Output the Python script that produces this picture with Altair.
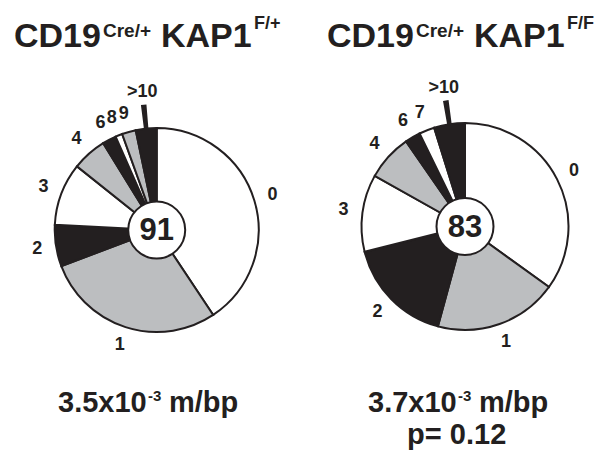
import altair as alt
import pandas as pd
import numpy as np

# ---- data ----
left_cats = ["0", "1", "2", "3", "4", "6", "8", "9", ">10"]
left_counts = [37, 26, 6, 9, 5, 2, 1, 2, 3]
right_cats = ["0", "1", "2", "3", "4", "6", "7", ">10"]
right_counts = [29, 16, 14, 10, 6, 2, 2, 4]
totals = ["91", "83"]
title_main = ["CD19", "KAP1"]
title_sup1 = "Cre/+"
title_sup2 = ["F/+", "F/F"]
rate_main = ["3.5x10", "3.7x10"]
rate_exp = "-3"
rate_unit = "m/bp"
p_value = "p= 0.12"

INK = "#231f20"
GREY = "#bcbec0"
FILLS = ["white", GREY, INK]
FONT = "Liberation Sans"


def text_layer(txt, x, y, size, align="left", baseline="alphabetic"):
    return alt.Chart(pd.DataFrame({"t": [txt]})).mark_text(
        font=FONT, fontWeight="bold", fontSize=size, color=INK,
        align=align, baseline=baseline
    ).encode(text="t:N", x=alt.value(x), y=alt.value(y))


def pie(cats, counts, total, cx, cy, R, r0):
    c = np.array(counts, dtype=float)
    frac = c / c.sum() * 2 * np.pi
    end = np.cumsum(frac)
    start = end - frac
    fills = [INK if cat == ">10" else FILLS[i % 3] for i, cat in enumerate(cats)]
    df = pd.DataFrame({
        "cat": cats,
        "start": start,
        "end": end,
        "mid": (start + end) / 2,
        "fill": fills,
    })
    df["t0"] = df["mid"] - 0.022
    df["t1"] = df["mid"] + 0.022
    base = alt.Chart(df)
    slices = base.mark_arc(radius=R, stroke=INK, strokeWidth=2).encode(
        theta=alt.Theta("start:Q", scale=None),
        theta2="end:Q",
        fill=alt.Fill("fill:N", scale=None),
        x=alt.value(cx), y=alt.value(cy),
    )
    labels = base.transform_filter(alt.datum.cat != ">10").mark_text(
        radius=R + 19, font=FONT, fontWeight="bold", fontSize=18, color=INK
    ).encode(
        theta=alt.Theta("mid:Q", scale=None), text="cat:N",
        x=alt.value(cx), y=alt.value(cy),
    )
    big = base.transform_filter(alt.datum.cat == ">10")
    tick = big.mark_arc(radius=R + 24, radius2=R, fill=INK).encode(
        theta=alt.Theta("t0:Q", scale=None), theta2="t1:Q",
        x=alt.value(cx), y=alt.value(cy),
    )
    big_label = big.mark_text(
        radius=R + 37, font=FONT, fontWeight="bold", fontSize=18, color=INK
    ).encode(
        theta=alt.Theta("mid:Q", scale=None), text="cat:N",
        x=alt.value(cx), y=alt.value(cy),
    )
    center = alt.Chart(pd.DataFrame({"n": [total]})).mark_arc(
        radius=r0, theta=0, theta2=2 * np.pi, fill="white", stroke=INK, strokeWidth=2
    ).encode(x=alt.value(cx), y=alt.value(cy))
    center_txt = alt.Chart(pd.DataFrame({"n": [total]})).mark_text(
        font=FONT, fontWeight="bold", fontSize=31, color=INK, baseline="middle", dy=1
    ).encode(text="n:N", x=alt.value(cx), y=alt.value(cy))
    return [slices, tick, labels, big_label, center, center_txt]


layers = []
layers += pie(left_cats, left_counts, totals[0], 148.7, 222, 102, 28.5)
layers += pie(right_cats, right_counts, totals[1], 457, 218.5, 103.5, 28.5)

for off, sup in zip([0, 313], title_sup2):
    layers += [
        text_layer(title_main[0], 6 + off, 38.5, 34),
        text_layer(title_sup1, 95 + off, 28.7, 19),
        text_layer(title_main[1], 153 + off, 38.5, 34),
        text_layer(sup, 246 + off, 21.3, 18),
    ]

for off, rm in zip([0, 310], rate_main):
    layers += [
        text_layer(rm, 50 + off, 403.5, 29),
        text_layer(rate_exp, 140 + off, 393, 15),
        text_layer(rate_unit, 161 + off, 403.5, 29),
    ]
layers.append(text_layer(p_value, 448.7, 436, 29, align="center"))

chart = alt.layer(*layers).properties(
    width=588, height=443, autosize="none", padding=0
).configure_view(stroke=None)

chart.save("out.html", embed_options={"renderer": "svg", "actions": False})
